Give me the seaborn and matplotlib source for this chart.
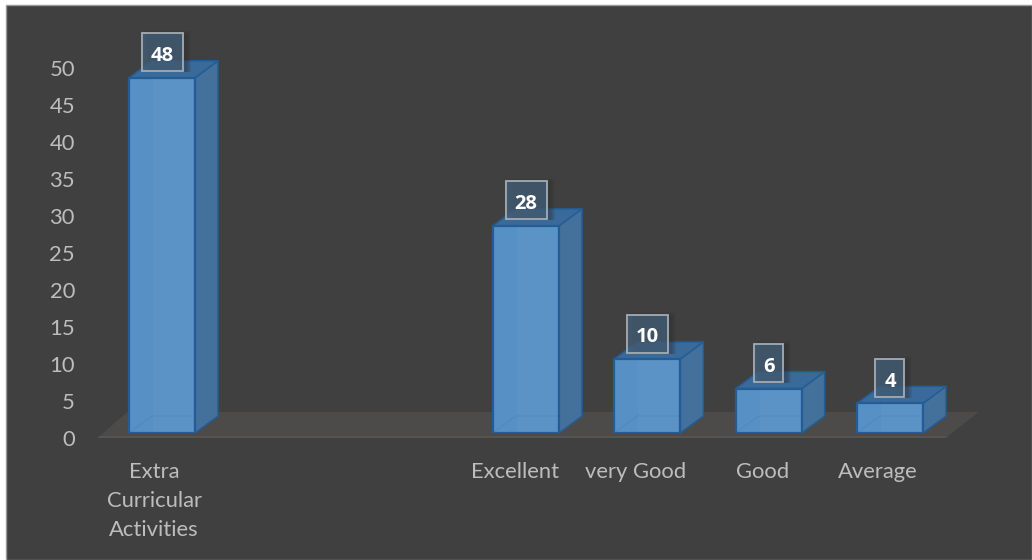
import matplotlib
matplotlib.use("Agg")
import matplotlib.pyplot as plt
import matplotlib.transforms as mtrans
from matplotlib.patches import Polygon, Rectangle
import pandas as pd
import seaborn as sns

categories = ["Extra\nCurricular\nActivities", "", " ", "Excellent", "very Good", "Good", "Average"]
bar_names = ["Extra\nCurricular\nActivities", "Excellent", "very Good", "Good", "Average"]
bar_values = [48, 28, 10, 6, 4]
y_ticks = [0, 5, 10, 15, 20, 25, 30, 35, 40, 45, 50]

W, H = 1032, 560
BG = "#404040"
TXT = "#BDBDBD"
FRONT = "#5690C5"
EDGE = "#245D95"
SIDE = "#44719C"
TOP = "#3A6A9A"
DX, DY = 23, 17  # depth of the fake 3d, px

sns.set_theme(style="dark", rc={"axes.facecolor": BG, "figure.facecolor": "white"})
plt.rcParams["font.family"] = ["Lato", "DejaVu Sans"]

fig = plt.figure(figsize=(W / 100, H / 100), dpi=100)
fig.patches.append(Rectangle((6 / W, 0), 1 - 6 / W, 1 - 5 / H, transform=fig.transFigure,
                             facecolor=BG, edgecolor="#9A9A9A", linewidth=1, zorder=-1))
ax = fig.add_axes([101.35 / W, 1 - 433 / H, (950.65 - 101.35) / W, 370 / H])
ax.patch.set_visible(False)

df = pd.DataFrame({"name": bar_names, "value": bar_values})
sns.barplot(data=df, x="name", y="value", order=categories, color=FRONT, saturation=1,
            width=0.544, edgecolor=EDGE, linewidth=1.6, ax=ax, zorder=4)
ax.set_xlim(-0.5, 6.5)
ax.set_ylim(0, 50)
ax.set_yticks(y_ticks)
ax.set_xlabel("")
ax.set_ylabel("")
sns.despine(ax=ax, left=True, bottom=True)
ax.tick_params(axis="both", length=0, labelsize=15.8, labelcolor=TXT)
ax.tick_params(axis="y", pad=19)
ax.tick_params(axis="x", pad=21)

# tick labels sit a bit off the bars, same as the 3d chart
for t in ax.get_yticklabels():
    t.set_transform(t.get_transform() + mtrans.Affine2D().translate(0, -5))
label_shift = [-8, 0, 0, -11, -12, -6, -12]
for t, dx in zip(ax.get_xticklabels(), label_shift):
    t.set_transform(t.get_transform() + mtrans.Affine2D().translate(dx, 0))
    t.set_linespacing(1.55)

fig.canvas.draw()
ident = mtrans.IdentityTransform()


def poly(pts, color, z, alpha=1.0, lw=0, ec="none"):
    p = Polygon(pts, closed=True, facecolor=color, edgecolor=ec, linewidth=lw, alpha=alpha,
                transform=ident, zorder=z, clip_on=False, joinstyle="round")
    ax.add_patch(p)


# floor
x0, y0 = ax.transData.transform((-0.5, 0))
x1, _ = ax.transData.transform((6.5, 0))
poly([(x0 - 4, y0 - 5), (x1 - 5, y0 - 5), (x1 + 28, y0 + 21), (x0 + 26, y0 + 21)], "#4D4B4A", 1)
poly([(x0 - 4, y0 - 5), (x1 - 5, y0 - 5), (x1 - 3, y0 - 3), (x0 - 2, y0 - 3)], "#565453", 1)

for bar, val in zip(list(ax.patches), bar_values):
    (l, b), (r, t) = ax.transData.transform([(bar.get_x(), 0), (bar.get_x() + bar.get_width(), val)])
    poly([(r, b), (r + DX, b + DY), (r + DX, t + DY), (r, t)], SIDE, 3, lw=1.1, ec=EDGE)
    poly([(l, t), (r, t), (r + DX, t + DY), (l + DX, t + DY)], TOP, 3, lw=1.1, ec=EDGE)
    # lighter middle of the front face
    ax.add_patch(Rectangle((l + 24, b + 1), r - l - 26, t - b - 2, facecolor="white", alpha=0.03,
                           edgecolor="none", transform=ident, zorder=5))
    # back edges showing through
    ax.plot([l + 1, l + DX, r - 1], [b + 1, b + DY, b + DY], color="#2F6AA5", alpha=0.15, lw=1,
            transform=ident, zorder=5, clip_on=False)

    # value box with soft shadow
    cx = (l + r) / 2
    cy = t + 25.5
    bw = 41 if val >= 10 else 29
    bh = 38
    for k in range(5):
        ax.add_patch(Rectangle((cx - bw / 2 + 2 + k, cy - bh / 2 - 1), bw + 6 - k * 2, bh + 4 - k,
                               facecolor="#2E2E2E", alpha=0.10, edgecolor="none",
                               transform=ident, zorder=5.5, clip_on=False))
    ax.add_patch(Rectangle((cx - bw / 2, cy - bh / 2), bw, bh, facecolor="#44617B", alpha=0.72,
                           edgecolor="none", transform=ident, zorder=6, clip_on=False))
    ax.add_patch(Rectangle((cx - bw / 2, cy - bh / 2), bw, bh, facecolor="none",
                           edgecolor="#A4ACB4", linewidth=1.3, transform=ident, zorder=6, clip_on=False))
    ax.text(cx, cy - 1.5, str(val), color="white", fontsize=14.5, fontweight="bold", ha="center",
            va="center_baseline", family=["Open Sans", "DejaVu Sans"], transform=ident, zorder=7,
            clip_on=False)

fig.savefig("out.png", dpi=100, facecolor="white")
